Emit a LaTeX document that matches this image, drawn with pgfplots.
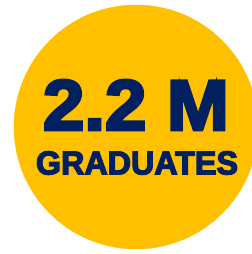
\documentclass[border=0pt]{standalone}
\usepackage{pgfplots}
\pgfplotsset{compat=1.18}
\usepackage{fontspec}
\usepackage{graphicx}
\newfontfamily\heavy{Liberation Sans Bold}[FakeBold=4]
\definecolor{gold}{HTML}{FFC000}
\definecolor{navy}{HTML}{002060}
\begin{document}
\begin{tikzpicture}
\begin{axis}[name=ax,
  width=252bp, height=254bp, scale only axis,
  xmin=0, xmax=252, ymin=0, ymax=254,
  hide axis, clip mode=global]
\addplot[gold, only marks, mark=*, mark size=122bp, mark options={fill=gold, draw=gold}] coordinates {(136,127)};
\coordinate (t1) at (axis cs:136,149);
\coordinate (t2) at (axis cs:137,91);
\end{axis}
\node[text=navy, inner sep=0pt] at (t1) {\resizebox{186bp}{50bp}{\heavy 2.2 M}};
\node[text=navy, inner sep=0pt] at (t2) {\resizebox{202bp}{23bp}{\heavy GRADUATES}};
\pgfresetboundingbox
\path (ax.south west) rectangle (ax.north east);
\end{tikzpicture}
\end{document}
